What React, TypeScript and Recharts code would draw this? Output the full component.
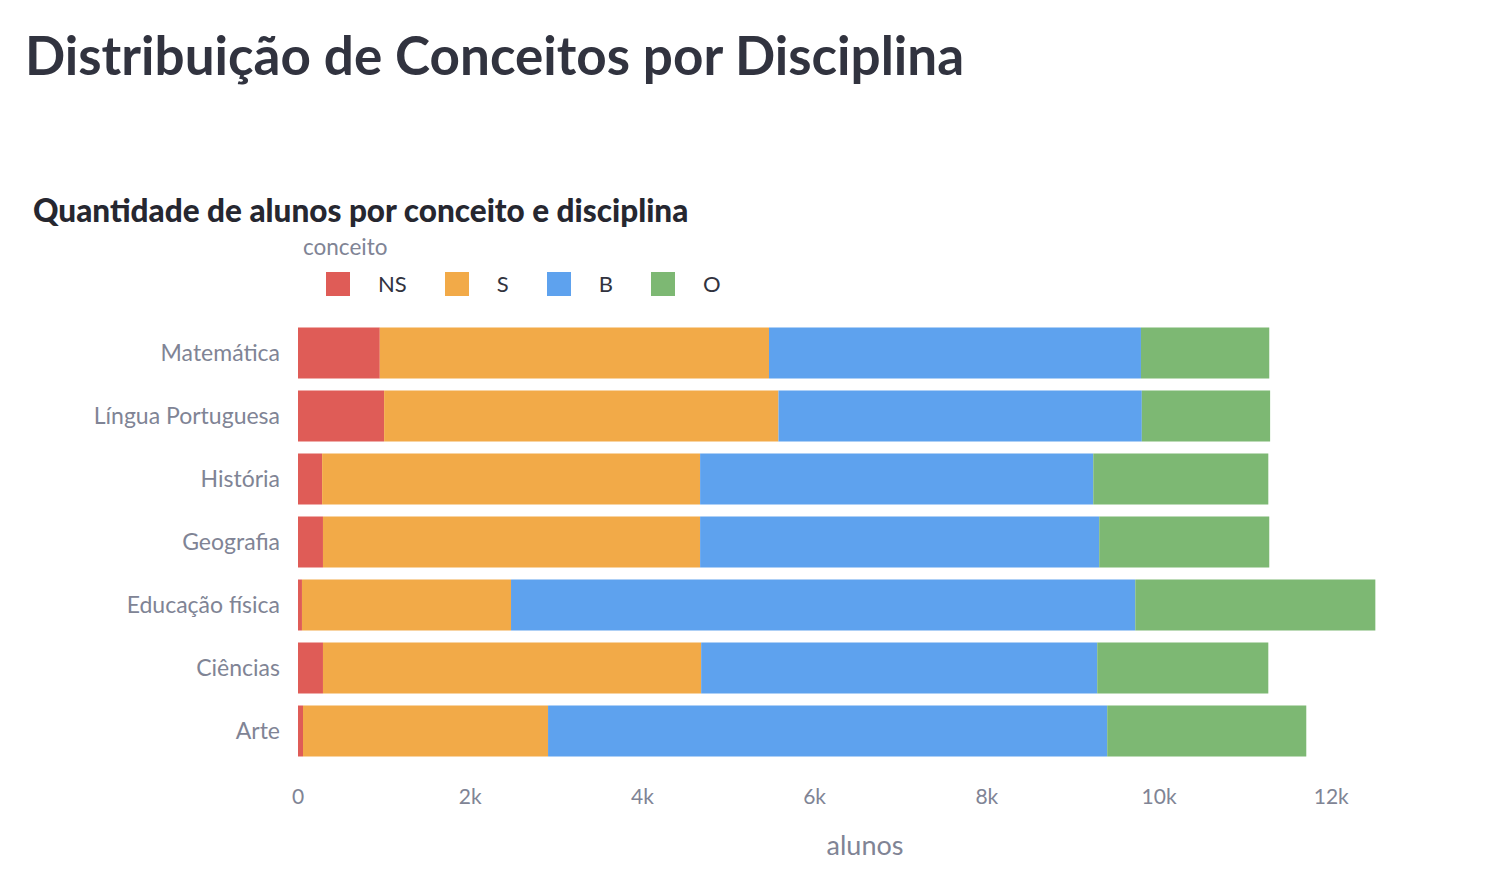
import React from "react";
import { Bar, BarChart, Legend, XAxis, YAxis } from "recharts";

const disciplinas = [
  "Matemática",
  "Língua Portuguesa",
  "História",
  "Geografia",
  "Educação física",
  "Ciências",
  "Arte",
];

const ns = [950, 1000, 280, 290, 46, 290, 58];
const s = [4520, 4580, 4390, 4380, 2428, 4392, 2846];
const b = [4320, 4220, 4566, 4635, 7250, 4600, 6494];
const o = [1490, 1490, 2033, 1975, 2788, 1987, 2312];

const conceitos = ["NS", "S", "B", "O"];
const cores = ["#DF5C57", "#F2AA48", "#5EA2EE", "#7DB873"];

const xTicks = [0, 2000, 4000, 6000, 8000, 10000, 12000];

const data = disciplinas.map((d, i) => ({
  disciplina: d,
  NS: ns[i],
  S: s[i],
  B: b[i],
  O: o[i],
}));

const FONT = "Lato, 'Noto Sans', sans-serif";
const GRAY = "#808495";
const DARK = "#31333F";

// legend block is 80px tall; recharts adds it to the top offset
const LegendBox = () => (
  <div style={{ fontFamily: FONT, position: "relative", height: 80 }}>
    <div style={{ position: "absolute", left: 303, top: 0, fontSize: 22.5, color: GRAY }}>
      conceito
    </div>
    <div style={{ position: "absolute", left: 326, top: 37, display: "flex" }}>
      {conceitos.map((c, i) => (
        <div key={c} style={{ display: "flex", alignItems: "center", marginRight: 38 }}>
          <div style={{ width: 24, height: 24, background: cores[i] }} />
          <span style={{ marginLeft: 28, fontSize: 22, color: DARK }}>{c}</span>
        </div>
      ))}
    </div>
  </div>
);

export default function App() {
  return (
    <div
      style={{
        position: "absolute",
        left: 0,
        top: 0,
        width: 1488,
        height: 880,
        background: "#fff",
        fontFamily: FONT,
      }}
    >
      <div
        style={{
          position: "absolute",
          left: 25,
          top: 23,
          fontSize: 53,
          fontWeight: 700,
          color: DARK,
          whiteSpace: "nowrap",
        }}
      >
        Distribuição de Conceitos por Disciplina
      </div>
      <div
        style={{
          position: "absolute",
          left: 33,
          top: 191,
          fontSize: 31.5,
          fontWeight: 900,
          color: "#262730",
          whiteSpace: "nowrap",
        }}
      >
        Quantidade de alunos por conceito e disciplina
      </div>
      <div style={{ position: "absolute", left: 0, top: 0 }}>
        <BarChart
          width={1488}
          height={880}
          data={data}
          layout="vertical"
          margin={{ top: 241.5, right: 56, bottom: 57.5, left: 0 }}
        >
          <XAxis
            type="number"
            domain={[0, 13170]}
            ticks={xTicks}
            tickFormatter={(v: number) => (v === 0 ? "0" : `${v / 1000}k`)}
            axisLine={false}
            tickLine={false}
            tickSize={0}
            tickMargin={27}
            height={60}
            tick={{ fill: GRAY, fontSize: 21, fontFamily: FONT }}
            allowDataOverflow
          />
          <YAxis
            type="category"
            dataKey="disciplina"
            width={298}
            axisLine={false}
            tickLine={false}
            tickSize={0}
            tickMargin={18}
            tick={{ fill: GRAY, fontSize: 23, fontFamily: FONT }}
          />
          <Legend
            verticalAlign="top"
            align="left"
            content={() => <LegendBox />}
            wrapperStyle={{ position: "absolute", top: 233, left: 0, width: 800, height: 80 }}
          />
          {conceitos.map((c, i) => (
            <Bar
              key={c}
              dataKey={c}
              stackId="a"
              fill={cores[i]}
              barSize={51}
              isAnimationActive={false}
            />
          ))}
        </BarChart>
      </div>
      <div
        style={{
          position: "absolute",
          left: 865,
          top: 828,
          transform: "translateX(-50%)",
          fontSize: 27,
          color: GRAY,
        }}
      >
        alunos
      </div>
    </div>
  );
}
